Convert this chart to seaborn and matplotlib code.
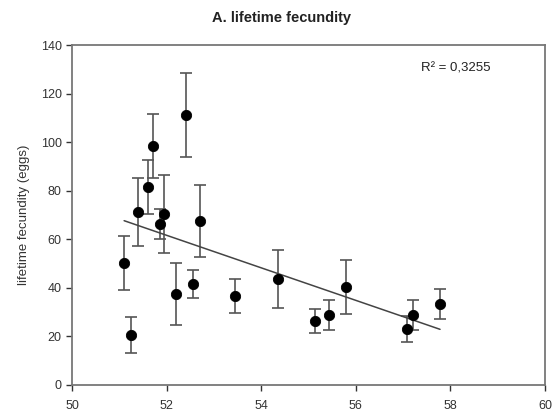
import numpy as np
import pandas as pd
from matplotlib import pyplot as plt
import seaborn as sns

# size of adult vs lifetime fecundity
size = [51.1, 51.25, 51.4, 51.6, 51.7, 51.85, 51.95, 52.2, 52.4, 52.56,
        52.7, 53.45, 54.35, 55.14, 55.43, 55.79, 57.08, 57.2, 57.78]
eggs = [50.2, 20.6, 71.2, 81.5, 98.4, 66.3, 70.4, 37.4, 111.0, 41.6,
        67.5, 36.6, 43.6, 26.3, 28.8, 40.3, 23.0, 28.8, 33.3]
err = [11.3, 7.5, 14.0, 11.0, 13.0, 6.3, 16.0, 12.8, 17.3, 5.8,
       14.8, 7.0, 12.0, 5.0, 6.3, 11.0, 5.5, 6.0, 6.0]
x_ticks = [50, 52, 54, 56, 58, 60]
y_ticks = [0, 20, 40, 60, 80, 100, 120, 140]

df = pd.DataFrame({'size': size, 'eggs': eggs, 'err': err})

sns.set_style('ticks')
plt.rcParams['font.family'] = ['Liberation Sans', 'DejaVu Sans']

fig = plt.figure(figsize=(5.59, 4.17), dpi=100)
ax = fig.add_axes([0.129, 0.077, 0.846, 0.815])

ax.errorbar(df['size'], df['eggs'], yerr=df['err'], fmt='none',
            ecolor='#555555', elinewidth=1.2, capsize=4, capthick=1.2, zorder=2)
sns.scatterplot(data=df, x='size', y='eggs', color='black', s=55,
                edgecolor='black', ax=ax, zorder=3)
sns.regplot(data=df, x='size', y='eggs', scatter=False, ci=None, truncate=True,
            line_kws={'color': '#444444', 'lw': 1.1}, ax=ax)

ax.set_xlim(50, 60)
ax.set_ylim(0, 140)
ax.set_xticks(x_ticks)
ax.set_yticks(y_ticks)
ax.set_xlabel('')
ax.set_ylabel('lifetime fecundity (eggs)', fontsize=9.5, color='#333333', labelpad=8)
ax.tick_params(labelsize=9, colors='#333333', length=4, width=1, direction='out')
ax.tick_params(axis='x', pad=7)
for sp in ax.spines.values():
    sp.set_visible(True)
    sp.set_color('#777777')
    sp.set_linewidth(1.3)

ax.text(0.884, 0.93, 'R² = 0,3255', transform=ax.transAxes, ha='right',
        va='center', fontsize=9.5, color='#222222')
fig.text(0.504, 0.957, 'A. lifetime fecundity', ha='center', va='center',
         fontsize=10.5, fontweight='bold', color='#222222')

fig.savefig('out.png', dpi=100)
